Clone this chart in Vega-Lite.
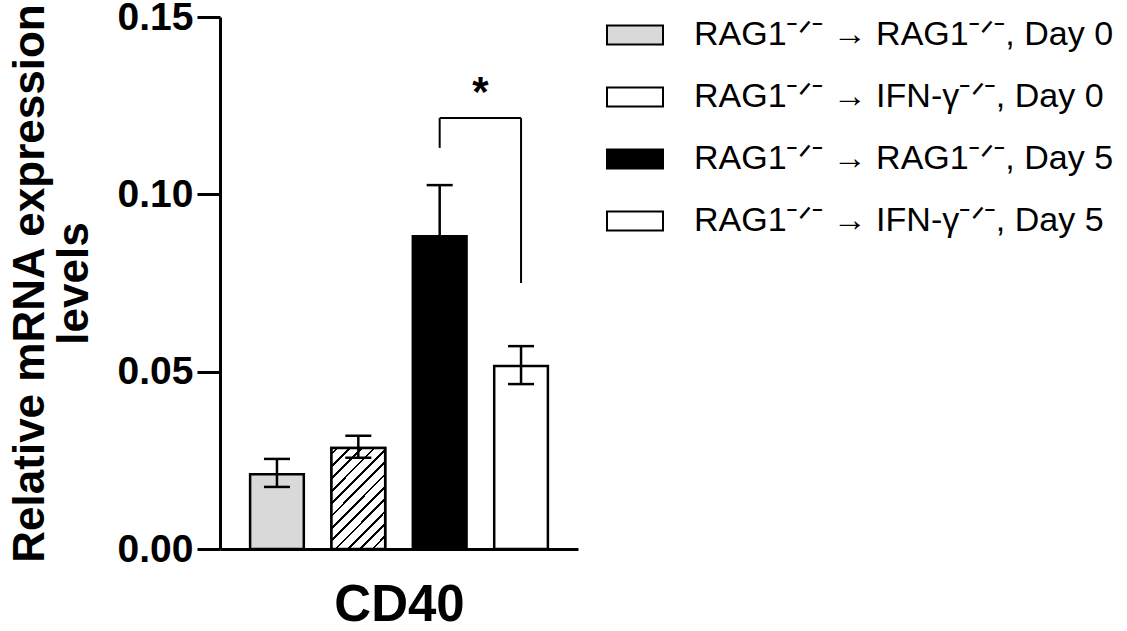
{
  "$schema": "https://vega.github.io/schema/vega-lite/v6.json",
  "width": 358,
  "height": 532,
  "autosize": "none",
  "padding": {"left": 220, "top": 17, "right": 549, "bottom": 82},
  "background": "white",
  "config": {"view": {"stroke": null}, "font": "Liberation Sans"},
  "datasets": {
    "bars": [
      {"group": "RAG1ˉᐟˉ → RAG1ˉᐟˉ, Day 0", "mean": 0.0211, "lower": 0.0175, "upper": 0.0254},
      {"group": "RAG1ˉᐟˉ → IFN-γˉᐟˉ, Day 0", "mean": 0.0285, "lower": 0.0257, "upper": 0.0319},
      {"group": "RAG1ˉᐟˉ → RAG1ˉᐟˉ, Day 5", "mean": 0.0882, "lower": 0.0738, "upper": 0.1026},
      {"group": "RAG1ˉᐟˉ → IFN-γˉᐟˉ, Day 5", "mean": 0.0516, "lower": 0.0465, "upper": 0.0572}
    ],
    "bracket": [
      {"from": "RAG1ˉᐟˉ → RAG1ˉᐟˉ, Day 5", "to": "RAG1ˉᐟˉ → RAG1ˉᐟˉ, Day 5", "y": 0.1131, "y2": 0.1215},
      {"from": "RAG1ˉᐟˉ → RAG1ˉᐟˉ, Day 5", "to": "RAG1ˉᐟˉ → IFN-γˉᐟˉ, Day 5", "y": 0.1215, "y2": 0.1215},
      {"from": "RAG1ˉᐟˉ → IFN-γˉᐟˉ, Day 5", "to": "RAG1ˉᐟˉ → IFN-γˉᐟˉ, Day 5", "y": 0.075, "y2": 0.1215}
    ],
    "star": [
      {"group": "RAG1ˉᐟˉ → RAG1ˉᐟˉ, Day 5", "label": "*", "y": 0.125}
    ]
  },
  "layer": [
    {
      "data": {"name": "bars"},
      "mark": {"type": "bar", "stroke": "black", "strokeWidth": 2.5},
      "encoding": {
        "x": {
          "field": "group", "type": "nominal", "sort": null,
          "scale": {"paddingInner": 0.34, "paddingOuter": 0.37},
          "axis": {"title": "CD40", "labels": false, "ticks": false, "domainWidth": 3, "domainColor": "black",
                   "titleFontSize": 51, "titleFontWeight": "bold", "titleColor": "black", "titlePadding": 31, "titleFont": "Liberation Sans"}
        },
        "y": {
          "field": "mean", "type": "quantitative",
          "scale": {"domain": [0, 0.15], "nice": false, "zero": true},
          "axis": {"values": [0, 0.05, 0.1, 0.15], "format": ".2f", "labelFontSize": 39, "labelFontWeight": "bold",
                   "labelColor": "black", "labelPadding": 4, "labelFlush": false, "labelOverlap": false,
                   "tickSize": 23, "tickWidth": 3, "tickColor": "black", "domainWidth": 3, "domainColor": "black",
                   "grid": false, "title": ["Relative mRNA expression", "levels"], "titleFontSize": 44,
                   "titleFontWeight": "bold", "titleColor": "black", "titleLineHeight": 44, "titlePadding": 21, "titleFont": "Liberation Sans", "labelFont": "Liberation Sans"}
        },
        "fill": {
          "field": "group", "type": "nominal", "sort": null,
          "scale": {
            "domain": ["RAG1ˉᐟˉ → RAG1ˉᐟˉ, Day 0", "RAG1ˉᐟˉ → IFN-γˉᐟˉ, Day 0", "RAG1ˉᐟˉ → RAG1ˉᐟˉ, Day 5", "RAG1ˉᐟˉ → IFN-γˉᐟˉ, Day 5"],
            "range": ["#d9d9d9", "#ffffff", "#000000", "#ffffff"]
          },
          "legend": {
            "title": null, "orient": "none", "legendX": 386, "legendY": -11,
            "symbolType": "M-1,-0.34H1V0.34H-1Z", "symbolSize": 3136,
            "labelFontSize": 34, "labelFont": "Liberation Sans", "labelColor": "black", "labelOffset": 30,
            "rowPadding": 16, "labelLimit": 0, "symbolStrokeColor": "black", "symbolStrokeWidth": 2, "symbolOpacity": 1
          }
        }
      }
    },
    {
      "data": {"name": "bars"},
      "transform": [{"filter": "indexof(datum.group, 'IFN') >= 0 && indexof(datum.group, 'Day 0') >= 0"}],
      "mark": {"type": "bar", "stroke": "black", "strokeWidth": 2.5},
      "encoding": {
        "x": {"field": "group", "type": "nominal", "sort": null},
        "y": {"field": "mean", "type": "quantitative"},
        "fill": {"value": {"gradient": "linear", "x1": 0, "y1": 0, "x2": 0.637, "y2": 1.19, "stops": [
                {"offset": 0, "color": "#ffffff"},
                {"offset": 0.031, "color": "#ffffff"}, {"offset": 0.031, "color": "#000000"}, {"offset": 0.049, "color": "#000000"}, {"offset": 0.049, "color": "#ffffff"},
                {"offset": 0.111, "color": "#ffffff"}, {"offset": 0.111, "color": "#000000"}, {"offset": 0.129, "color": "#000000"}, {"offset": 0.129, "color": "#ffffff"},
                {"offset": 0.191, "color": "#ffffff"}, {"offset": 0.191, "color": "#000000"}, {"offset": 0.209, "color": "#000000"}, {"offset": 0.209, "color": "#ffffff"},
                {"offset": 0.271, "color": "#ffffff"}, {"offset": 0.271, "color": "#000000"}, {"offset": 0.289, "color": "#000000"}, {"offset": 0.289, "color": "#ffffff"},
                {"offset": 0.351, "color": "#ffffff"}, {"offset": 0.351, "color": "#000000"}, {"offset": 0.369, "color": "#000000"}, {"offset": 0.369, "color": "#ffffff"},
                {"offset": 0.431, "color": "#ffffff"}, {"offset": 0.431, "color": "#000000"}, {"offset": 0.449, "color": "#000000"}, {"offset": 0.449, "color": "#ffffff"},
                {"offset": 0.511, "color": "#ffffff"}, {"offset": 0.511, "color": "#000000"}, {"offset": 0.529, "color": "#000000"}, {"offset": 0.529, "color": "#ffffff"},
                {"offset": 0.591, "color": "#ffffff"}, {"offset": 0.591, "color": "#000000"}, {"offset": 0.609, "color": "#000000"}, {"offset": 0.609, "color": "#ffffff"},
                {"offset": 0.671, "color": "#ffffff"}, {"offset": 0.671, "color": "#000000"}, {"offset": 0.689, "color": "#000000"}, {"offset": 0.689, "color": "#ffffff"},
                {"offset": 0.751, "color": "#ffffff"}, {"offset": 0.751, "color": "#000000"}, {"offset": 0.769, "color": "#000000"}, {"offset": 0.769, "color": "#ffffff"},
                {"offset": 0.831, "color": "#ffffff"}, {"offset": 0.831, "color": "#000000"}, {"offset": 0.849, "color": "#000000"}, {"offset": 0.849, "color": "#ffffff"},
                {"offset": 0.911, "color": "#ffffff"}, {"offset": 0.911, "color": "#000000"}, {"offset": 0.929, "color": "#000000"}, {"offset": 0.929, "color": "#ffffff"},
                {"offset": 1, "color": "#ffffff"}
              ]}}
      }
    },
    {
      "data": {"name": "bars"},
      "mark": {"type": "rule", "strokeWidth": 2.5, "color": "black"},
      "encoding": {
        "x": {"field": "group", "type": "nominal", "sort": null},
        "y": {"field": "lower", "type": "quantitative"},
        "y2": {"field": "upper"}
      }
    },
    {
      "data": {"name": "bars"},
      "mark": {"type": "tick", "size": 26, "thickness": 2.5, "color": "black", "opacity": 1},
      "encoding": {
        "x": {"field": "group", "type": "nominal", "sort": null},
        "y": {"field": "upper", "type": "quantitative"}
      }
    },
    {
      "data": {"name": "bars"},
      "mark": {"type": "tick", "size": 26, "thickness": 2.5, "color": "black", "opacity": 1},
      "encoding": {
        "x": {"field": "group", "type": "nominal", "sort": null},
        "y": {"field": "lower", "type": "quantitative"}
      }
    },
    {
      "data": {"name": "bracket"},
      "mark": {"type": "rule", "strokeWidth": 2, "color": "black"},
      "encoding": {
        "x": {"field": "from", "type": "nominal", "sort": null},
        "x2": {"field": "to"},
        "y": {"field": "y", "type": "quantitative"},
        "y2": {"field": "y2"}
      }
    },
    {
      "data": {"name": "star"},
      "mark": {"type": "text", "fontSize": 42, "fontWeight": "bold", "font": "Liberation Sans", "baseline": "alphabetic", "align": "center", "color": "black"},
      "encoding": {
        "x": {"field": "group", "type": "nominal", "sort": null, "bandPosition": 1.258},
        "y": {"field": "y", "type": "quantitative"},
        "text": {"field": "label"}
      }
    }
  ]
}
